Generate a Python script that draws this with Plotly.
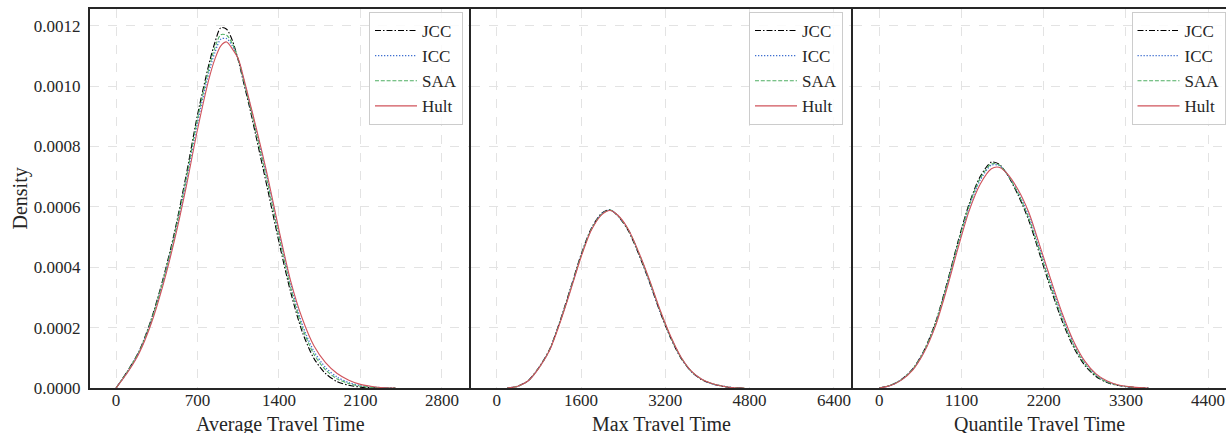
import plotly.graph_objects as go

# ---------------- data ----------------
series = ["JCC", "ICC", "SAA", "Hult"]

# Panel 1: Average Travel Time
avg_x = [0, 100, 200, 300, 400, 500, 600, 700, 800, 850, 900, 950, 1000, 1050, 1100,
         1150, 1200, 1300, 1400, 1500, 1600, 1700, 1800, 1900, 2000, 2100, 2200, 2300, 2400]
avg_jcc = [0, 0.000057, 0.000124, 0.000225, 0.000356, 0.000512, 0.000700, 0.000905, 0.001075,
           0.001145, 0.001193, 0.001188, 0.001150, 0.001085, 0.001005, 0.000925, 0.000838,
           0.000662, 0.000483, 0.000318, 0.000186, 0.000098, 0.000048, 0.000021, 0.000009,
           0.000003, 0.000001, 0, 0]
avg_icc = [0, 0.000054, 0.000120, 0.000217, 0.000344, 0.000496, 0.000676, 0.000878, 0.001048,
           0.001112, 0.001155, 0.001157, 0.001132, 0.001089, 0.001016, 0.000940, 0.000860,
           0.000694, 0.000512, 0.000345, 0.000210, 0.000122, 0.000068, 0.000036, 0.000018,
           0.000008, 0.000003, 0.000001, 0]
avg_saa = [0, 0.000056, 0.000122, 0.000221, 0.000350, 0.000504, 0.000688, 0.000892, 0.001062,
           0.001128, 0.001170, 0.001168, 0.001140, 0.001088, 0.001012, 0.000935, 0.000852,
           0.000682, 0.000500, 0.000333, 0.000200, 0.000112, 0.000060, 0.000030, 0.000015,
           0.000006, 0.000002, 0, 0]
avg_hult = [0, 0.000052, 0.000117, 0.000211, 0.000336, 0.000486, 0.000661, 0.000856, 0.001026,
            0.001090, 0.001133, 0.001146, 0.001122, 0.001090, 0.001021, 0.000945, 0.000868,
            0.000705, 0.000523, 0.000355, 0.000230, 0.000140, 0.000084, 0.000048, 0.000026,
            0.000012, 0.000005, 0.000001, 0]

# Panel 2: Max Travel Time
max_x = [200, 400, 600, 800, 1000, 1200, 1400, 1600, 1800, 2000, 2150, 2300, 2500, 2700,
         2900, 3100, 3300, 3500, 3700, 3900, 4100, 4300, 4500, 4700]
max_jcc = [0, 0.000006, 0.000025, 0.000068, 0.000127, 0.000221, 0.000330, 0.000441, 0.000530,
           0.000580, 0.000590, 0.000570, 0.000520, 0.000441, 0.000350, 0.000252, 0.000166,
           0.000098, 0.000053, 0.000027, 0.000013, 0.000005, 0.000001, 0]
max_icc = [0, 0.000006, 0.000024, 0.000067, 0.000125, 0.000218, 0.000326, 0.000437, 0.000527,
           0.000578, 0.000589, 0.000571, 0.000523, 0.000445, 0.000354, 0.000256, 0.000169,
           0.000100, 0.000054, 0.000028, 0.000013, 0.000006, 0.000001, 0]
max_saa = [0, 0.000006, 0.000024, 0.000067, 0.000125, 0.000218, 0.000326, 0.000437, 0.000527,
           0.000577, 0.000589, 0.000571, 0.000523, 0.000445, 0.000355, 0.000256, 0.000169,
           0.000100, 0.000054, 0.000028, 0.000014, 0.000006, 0.000001, 0]
max_hult = [0, 0.000006, 0.000024, 0.000066, 0.000123, 0.000215, 0.000322, 0.000433, 0.000524,
            0.000575, 0.000588, 0.000572, 0.000525, 0.000448, 0.000358, 0.000259, 0.000172,
            0.000102, 0.000055, 0.000028, 0.000014, 0.000006, 0.000001, 0]

# Panel 3: Quantile Travel Time
q_x = [0, 150, 300, 450, 600, 750, 900, 1050, 1200, 1350, 1500, 1600, 1700, 1850, 2000,
       2150, 2300, 2450, 2600, 2750, 2900, 3050, 3200, 3400, 3600]
q_jcc = [0, 0.000009, 0.000029, 0.000064, 0.000125, 0.000216, 0.000342, 0.000482, 0.000608,
         0.000700, 0.000748, 0.000742, 0.000712, 0.000643, 0.000555, 0.000440, 0.000325,
         0.000220, 0.000135, 0.000075, 0.000038, 0.000018, 0.000008, 0.000002, 0]
q_icc = [0, 0.000008, 0.000028, 0.000062, 0.000121, 0.000210, 0.000333, 0.000470, 0.000596,
         0.000688, 0.000738, 0.000737, 0.000712, 0.000652, 0.000570, 0.000460, 0.000344,
         0.000236, 0.000148, 0.000084, 0.000044, 0.000021, 0.000009, 0.000002, 0]
q_saa = [0, 0.000009, 0.000028, 0.000063, 0.000123, 0.000213, 0.000338, 0.000476, 0.000602,
         0.000694, 0.000742, 0.000739, 0.000712, 0.000648, 0.000563, 0.000450, 0.000335,
         0.000228, 0.000142, 0.000080, 0.000041, 0.000020, 0.000009, 0.000002, 0]
q_hult = [0, 0.000008, 0.000027, 0.000060, 0.000118, 0.000204, 0.000325, 0.000460, 0.000585,
          0.000675, 0.000726, 0.000731, 0.000713, 0.000660, 0.000582, 0.000470, 0.000355,
          0.000246, 0.000155, 0.000089, 0.000047, 0.000023, 0.000010, 0.000003, 0]

panel_titles = ["Average Travel Time", "Max Travel Time", "Quantile Travel Time"]
y_title = "Density"
panel_ticks = [[0, 700, 1400, 2100, 2800], [0, 1600, 3200, 4800, 6400], [0, 1100, 2200, 3300, 4400]]
y_ticks = [0, 0.0002, 0.0004, 0.0006, 0.0008, 0.0010, 0.0012]

# ---------------- styling ----------------
styles = {
    "JCC": dict(color="#000000", dash="6px,2px,1.5px,2px", width=1.1),
    "ICC": dict(color="#3f6fd0", dash="1.3px,1.7px", width=1.3),
    "SAA": dict(color="#4fae63", dash="4px,1.8px", width=1.1),
    "Hult": dict(color="#d0535b", dash="solid", width=1.1),
}
FONT = "Liberation Serif, Times New Roman, serif"
AXC = "#262626"
GRID = "#e3e3e3"

panels = [
    (avg_x, [avg_jcc, avg_icc, avg_saa, avg_hult]),
    (max_x, [max_jcc, max_icc, max_saa, max_hult]),
    (q_x, [q_jcc, q_icc, q_saa, q_hult]),
]
x_ranges = [[-224, 3050], [-488, 6757], [-356, 4640]]
left_px, top_px, plot_w, plot_h = 90, 9, 1136, 379
bounds = [90, 471, 852.7, 1226]
domains = [[(bounds[i] - left_px) / plot_w, (bounds[i + 1] - left_px) / plot_w] for i in range(3)]
legend_right = [463, 843, 1225.5]

fig = go.Figure()
for p, (xs, ys_list) in enumerate(panels):
    sfx = "" if p == 0 else str(p + 1)
    for name, ys in zip(series, ys_list):
        st = styles[name]
        fig.add_trace(go.Scatter(
            x=xs, y=ys, mode="lines", name=name,
            line=dict(color=st["color"], dash=st["dash"], width=st["width"], shape="spline", smoothing=0.8),
            xaxis="x" + sfx, yaxis="y" + sfx, legend="legend" + sfx,
        ))

layout = dict(
    width=1226, height=433,
    margin=dict(l=90, r=0, t=9, b=45),
    paper_bgcolor="white", plot_bgcolor="white",
    font=dict(family=FONT, size=17, color=AXC),
)
annotations = []
for p in range(3):
    sfx = "" if p == 0 else str(p + 1)
    layout["xaxis" + sfx] = dict(
        domain=domains[p], range=x_ranges[p], anchor="y" + sfx,
        tickvals=panel_ticks[p], ticktext=[str(v) for v in panel_ticks[p]],
        showgrid=True, gridcolor=GRID, griddash="dash", gridwidth=1.2,
        showline=True, linecolor=AXC, linewidth=2, mirror=True,
        zeroline=False, ticks="", tickfont=dict(size=17, family=FONT, color=AXC),
        ticklabelstandoff=-4,
        automargin=False,
    )
    layout["yaxis" + sfx] = dict(
        domain=[0, 1], range=[0, 0.001255], anchor="x" + sfx,
        tickvals=y_ticks,
        ticktext=[f"{v:.4f}" for v in y_ticks] if p == 0 else None,
        showticklabels=(p == 0),
        showgrid=True, gridcolor=GRID, griddash="dash", gridwidth=1.2,
        showline=True, linecolor=AXC, linewidth=2, mirror=False,
        zeroline=False, ticks="", tickfont=dict(size=17, family=FONT, color=AXC),
        ticklabelstandoff=4,
        automargin=False,
    )
    layout["legend" + sfx] = dict(
        x=(legend_right[p] - left_px) / plot_w, xanchor="right",
        y=(388 - 12) / plot_h, yanchor="top",
        bgcolor="rgba(255,255,255,0.85)", bordercolor="#cccccc", borderwidth=1,
        font=dict(size=17, family=FONT, color=AXC),
        tracegroupgap=0, itemwidth=42,
    )
    annotations.append(dict(
        text=panel_titles[p], xref="paper", yref="paper",
        x=(domains[p][0] + domains[p][1]) / 2, xanchor="center",
        y=-(411 - 388) / plot_h, yanchor="top", showarrow=False,
        font=dict(size=20, family=FONT, color=AXC),
    ))
annotations.append(dict(
    text=y_title, xref="paper", yref="paper",
    x=-(90 - 20) / plot_w, xanchor="center", y=0.5, yanchor="middle",
    textangle=-90, showarrow=False, font=dict(size=20, family=FONT, color=AXC),
))
layout["annotations"] = annotations

fig.update_layout(**layout)
fig.write_html("out.html", config={"displayModeBar": False},
               post_script="document.body.style.margin='0';document.body.style.overflow='hidden';")
